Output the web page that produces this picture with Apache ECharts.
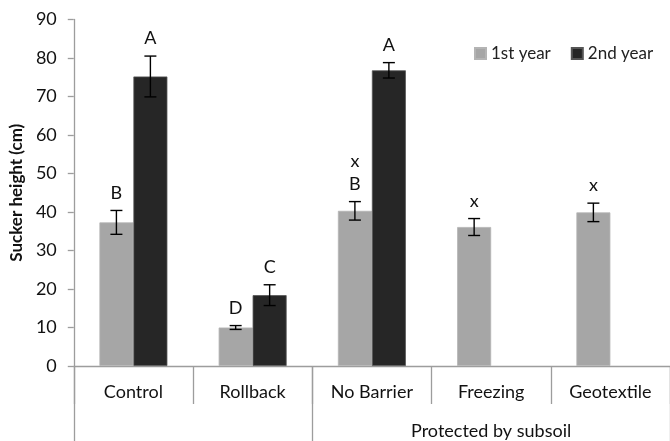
<!DOCTYPE html>
<html>
<head>
<meta charset="utf-8">
<script src="https://cdn.jsdelivr.net/npm/echarts@6/dist/echarts.min.js"></script>
<style>
  html, body { margin: 0; padding: 0; background: #fff; }
  #chart { width: 670px; height: 441px; }
</style>
</head>
<body>
<div id="chart"></div>
<script>
// Treatments and their grouping on the category axis
var categories = ['Control', 'Rollback', 'No Barrier', 'Freezing', 'Geotextile'];
var groupNames = ['', '', '', 'Protected by subsoil', ''];

// Mean sucker height (cm) with standard error
var year1 = [37.3, 10.0, 40.3, 36.1, 39.9];
var year2 = [75.2, 18.4, 76.8, null, null];
var err1 = [3.1, 0.5, 2.4, 2.2, 2.4];
var err2 = [5.3, 2.7, 2.0, null, null];

// Significance letters
var letters1 = ['B', 'D', 'x\nB', 'x', 'x'];
var letters2 = ['A', 'C', 'A', '', ''];

var yTicks = [0, 10, 20, 30, 40, 50, 60, 70, 80, 90];

var FONT = 'Lato, "Open Sans", sans-serif';
var AXIS_GREY = '#9d9d9d';
var LIGHT = '#a6a6a6';
var DARK = '#262626';
var CAT_GAP = 0.43;

function errData(means, errs, letters) {
  var out = [];
  for (var i = 0; i < means.length; i++) {
    if (means[i] == null) continue;
    out.push([i, means[i], errs[i], letters[i]]);
  }
  return out;
}

function errRenderer(side) {
  return function (params, api) {
    var idx = api.value(0);
    var mean = api.value(1);
    var e = api.value(2);
    var txt = api.value(3);
    var band = api.size([1, 0])[0];
    var barW = band * (1 - CAT_GAP) / 2;
    var c = api.coord([idx, mean]);
    var x = c[0] + side * barW / 2;
    var yHi = api.coord([idx, mean + e])[1];
    var yLo = api.coord([idx, mean - e])[1];
    var cap = 6;
    var ls = { stroke: '#000', lineWidth: 1.4 };
    return {
      type: 'group',
      children: [
        { type: 'line', shape: { x1: x, y1: yHi, x2: x, y2: yLo }, style: ls },
        { type: 'line', shape: { x1: x - cap, y1: yHi, x2: x + cap, y2: yHi }, style: ls },
        { type: 'line', shape: { x1: x - cap, y1: yLo, x2: x + cap, y2: yLo }, style: ls },
        {
          type: 'text',
          style: {
            text: String(txt),
            x: x,
            y: yHi - 6,
            align: 'center',
            verticalAlign: 'bottom',
            font: '18px ' + FONT,
            lineHeight: 23,
            fill: '#111'
          }
        }
      ]
    };
  };
}

var chart = echarts.init(document.getElementById('chart'), null, { renderer: 'canvas' });

chart.setOption({
  animation: false,
  textStyle: { fontFamily: FONT },
  grid: { left: 69, top: 19.5, width: 605, bottom: 75, containLabel: false },
  legend: {
    left: 469,
    top: 40,
    icon: 'rect',
    itemWidth: 11,
    itemHeight: 11,
    itemGap: 20,
    textStyle: { fontSize: 17, color: '#222', fontFamily: FONT },
    data: ['1st year', '2nd year']
  },
  xAxis: [
    {
      type: 'category',
      data: categories,
      position: 'bottom',
      axisLine: { show: true, lineStyle: { color: AXIS_GREY, width: 1.3 } },
      axisTick: { show: true, length: 38, interval: 0, lineStyle: { color: AXIS_GREY, width: 1.3 } },
      axisLabel: { interval: 0, margin: 17, fontSize: 18, color: '#111', fontFamily: FONT }
    },
    {
      type: 'category',
      data: groupNames,
      position: 'bottom',
      axisLine: { show: false },
      axisTick: {
        show: true,
        length: 80,
        interval: function (i) { return i === 0 || i === 2; },
        lineStyle: { color: AXIS_GREY, width: 1.3 }
      },
      axisLabel: { interval: 0, margin: 56, fontSize: 18, color: '#111', fontFamily: FONT }
    }
  ],
  yAxis: {
    type: 'value',
    min: yTicks[0],
    max: yTicks[yTicks.length - 1],
    interval: 10,
    name: 'Sucker height (cm)',
    nameLocation: 'middle',
    nameGap: 48,
    nameTextStyle: { fontSize: 17, fontWeight: 'bold', color: '#111', fontFamily: FONT },
    axisLine: { show: true, lineStyle: { color: AXIS_GREY, width: 1.3 } },
    axisTick: { show: true, length: 6, lineStyle: { color: AXIS_GREY, width: 1.3 } },
    axisLabel: { margin: 17, fontSize: 18, color: '#111', fontFamily: FONT },
    splitLine: { show: false }
  },
  series: [
    {
      name: '1st year',
      type: 'bar',
      data: year1,
      barGap: 0,
      barCategoryGap: (CAT_GAP * 100) + '%',
      itemStyle: { color: LIGHT, borderColor: '#b4b4b4', borderWidth: 0.8 }
    },
    {
      name: '2nd year',
      type: 'bar',
      data: year2,
      barGap: 0,
      barCategoryGap: (CAT_GAP * 100) + '%',
      itemStyle: { color: DARK, borderColor: '#555', borderWidth: 0.8 }
    },
    {
      type: 'custom',
      renderItem: errRenderer(-1),
      data: errData(year1, err1, letters1),
      z: 10
    },
    {
      type: 'custom',
      renderItem: errRenderer(1),
      data: errData(year2, err2, letters2),
      z: 10
    }
  ]
});
</script>
</body>
</html>
